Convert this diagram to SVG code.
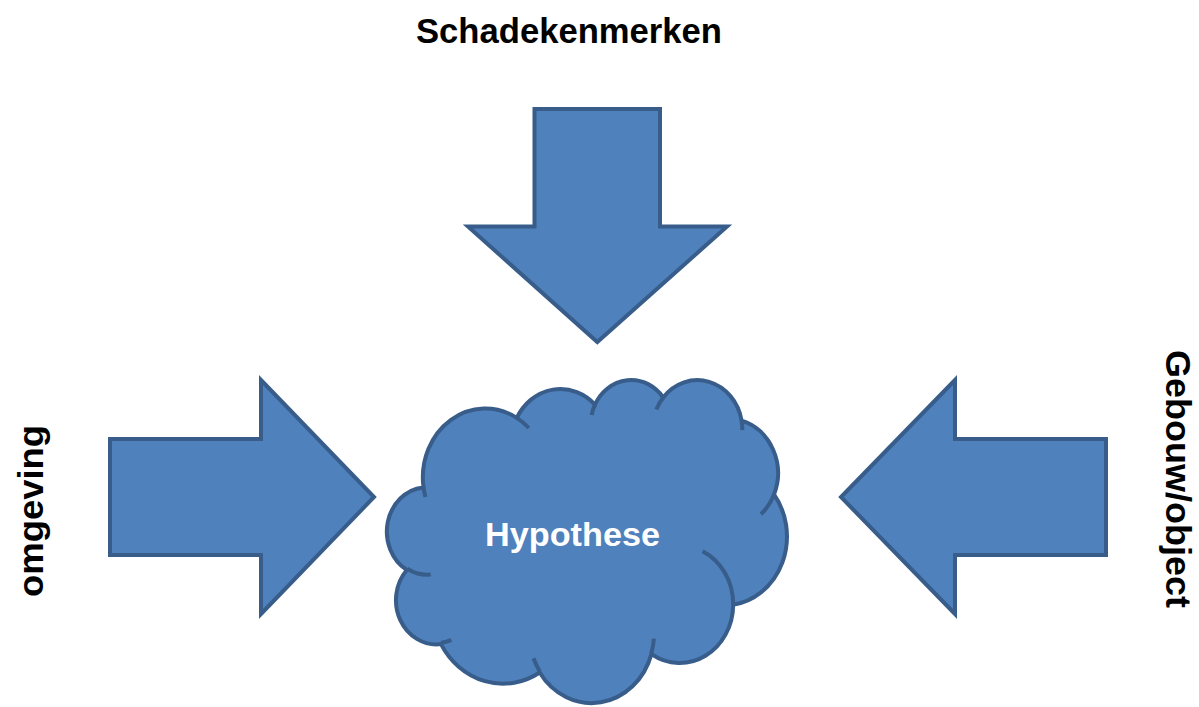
<svg xmlns="http://www.w3.org/2000/svg" width="1199" height="707" viewBox="0 0 1199 707">
<style>
.shape{fill:#4F81BD;stroke:#385D8A;stroke-width:4;stroke-linejoin:miter;stroke-miterlimit:10}
.inner{fill:none;stroke:#385D8A;stroke-width:4}
.lbl{font-family:"Liberation Sans",Arial,sans-serif;font-weight:bold;font-size:35px;fill:#000}
.ctr{font-family:"Liberation Sans",Arial,sans-serif;font-weight:bold;font-size:34px;fill:#FFFFFF}
</style>
<rect width="1199" height="707" fill="#FFFFFF"/>
<g id="arrow-top">
<polygon class="shape" points="534.5,109 660,109 660,226.5 727,226.5 597.3,342 468,226.5 534.5,226.5"/>
<text class="lbl" x="569" y="43" text-anchor="middle" textLength="306" lengthAdjust="spacingAndGlyphs">Schadekenmerken</text>
</g>
<g id="arrow-left">
<polygon class="shape" points="110,439 261,439 261,380 374,497 261,614 261,555 110,555"/>
<text class="lbl" transform="translate(43,511) rotate(-90)" x="0" y="0" text-anchor="middle" textLength="172" lengthAdjust="spacingAndGlyphs">omgeving</text>
</g>
<g id="arrow-right">
<polygon class="shape" points="1106,439 955,439 955,380 841,497 955,614 955,555 1106,555"/>
<text class="lbl" transform="translate(1166,479) rotate(90)" x="0" y="0" text-anchor="middle" textLength="258" lengthAdjust="spacingAndGlyphs">Gebouw/object</text>
</g>
<g id="cloud-hypothese">
<path class="shape" d="M423.4,486.4 A62.45,68.69 0 0 1 516.8,417.9 A49.31,54.31 0 0 1 595.0,404.6 A40.36,44.43 0 0 1 663.2,397.5 A44.91,49.29 0 0 1 741.6,420.7 A49.31,54.36 0 0 1 774.0,494.5 A62.65,68.91 0 0 1 733.2,604.7 A53.49,58.80 0 0 1 651.4,654.1 A62.44,68.87 0 0 1 539.7,672.5 A71.39,78.80 0 0 1 441.0,644.1 A40.32,44.23 0 0 1 406.8,570.0 A40.18,44.43 0 0 1 423.0,487.4 Z"/>
<path class="inner" d="M430.7,574.6 A40.18,44.43 0 0 1 407.3,568.7 M451.4,639.8 A40.32,44.23 0 0 1 441.1,642.7 M539.7,671.2 A62.44,68.87 0 0 1 533.5,658.2 M653.9,638.7 A62.44,68.87 0 0 1 651.4,653.0 M702.6,551.2 A53.49,58.80 0 0 1 733.2,604.7 M774.0,494.5 A49.31,54.36 0 0 1 761.0,514.2 M741.6,420.7 A44.91,49.29 0 0 1 742.3,430.1 M656.3,409.6 A44.91,49.29 0 0 1 663.2,397.5 M591.6,415.0 A40.36,44.43 0 0 1 595.0,404.6 M516.8,417.9 A62.45,68.69 0 0 1 528.8,428.0 M425.5,497.0 A62.45,68.69 0 0 1 423.4,486.4"/>
<text class="ctr" x="572.5" y="546" text-anchor="middle" textLength="175" lengthAdjust="spacingAndGlyphs">Hypothese</text>
</g>
<g id="connectors"></g>
</svg>
